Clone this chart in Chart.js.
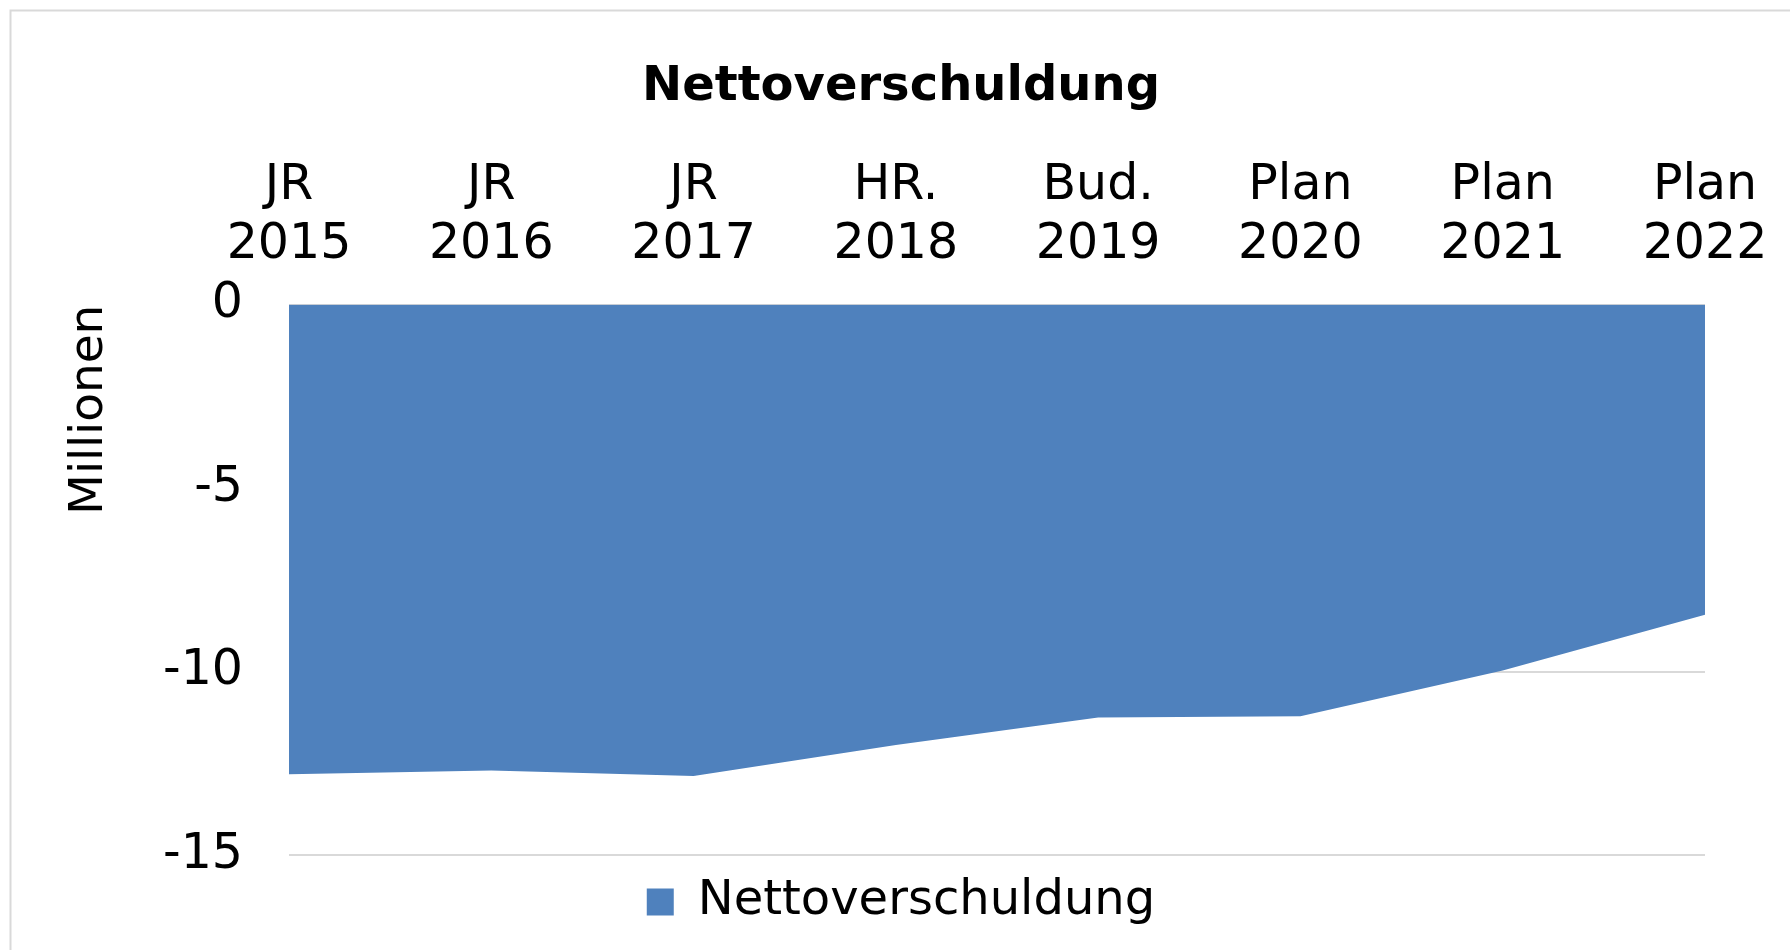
<!DOCTYPE html>
<html>
<head>
<meta charset="utf-8">
<script src="https://cdn.jsdelivr.net/npm/chart.js@4/dist/chart.umd.min.js"></script>
<style>
    html, body { margin: 0; padding: 0; background: #fff; }
    #wrap { width: 1790px; height: 950px; position: relative; }
</style>
</head>
<body>
<div id="wrap"><canvas id="chart"></canvas></div>
<script>
const categories = [['JR', '2015'], ['JR', '2016'], ['JR', '2017'], ['HR.', '2018'],
    ['Bud.', '2019'], ['Plan', '2020'], ['Plan', '2021'], ['Plan', '2022']];
const nettoverschuldung = [-12.8, -12.7, -12.85, -12.0, -11.25, -11.22, -9.97, -8.45];
const yTicks = [0, -5, -10, -15];

const font = 'DejaVu Sans, Verdana, sans-serif';

// light frame round the chart, like the office export
const framePlugin = {
    id: 'frame',
    beforeDraw(chart) {
        const ctx = chart.ctx;
        ctx.save();
        ctx.strokeStyle = '#d9d9d9';
        ctx.lineWidth = 2;
        ctx.strokeRect(10.5, 10.5, 1800, 960);
        ctx.restore();
    }
};

new Chart(document.getElementById('chart').getContext('2d'), {
    type: 'line',
    data: {
        labels: categories,
        datasets: [{
            label: 'Nettoverschuldung',
            data: nettoverschuldung,
            fill: 'origin',
            backgroundColor: '#4f81bd',
            borderColor: '#4f81bd',
            borderWidth: 0,
            pointRadius: 0,
            tension: 0
        }]
    },
    options: {
        responsive: true,
        maintainAspectRatio: false,
        animation: false,
        layout: { padding: { left: 12, right: 0, top: 0, bottom: 14 } },
        plugins: {
            title: {
                display: true,
                text: 'Nettoverschuldung',
                color: '#000',
                font: { family: font, size: 48, weight: 'bold', lineHeight: 1.2 },
                padding: { top: 59, bottom: 0 }
            },
            legend: {
                position: 'bottom',
                labels: {
                    color: '#000',
                    font: { family: font, size: 48 },
                    boxWidth: 27,
                    boxHeight: 27,
                    padding: 23
                }
            },
            tooltip: { enabled: false }
        },
        scales: {
            x: {
                position: 'top',
                offset: false,
                grid: { display: false, drawTicks: false, tickLength: 0 },
                border: { display: false },
                ticks: {
                    color: '#000',
                    font: { family: font, size: 49, lineHeight: 1.2 },
                    padding: 30,
                    maxRotation: 0,
                    autoSkip: false
                },
                afterFit(scale) {
                    scale.height = 188;
                    // labels may hang over the plot edges, the side axes leave room
                    scale.paddingLeft = 0;
                    scale.paddingRight = 0;
                }
            },
            y: {
                min: -15,
                max: 0,
                afterBuildTicks(scale) { scale.ticks = yTicks.map(v => ({ value: v })); },
                grid: { color: '#d9d9d9', lineWidth: 2, drawTicks: false, tickLength: 0 },
                border: { display: false },
                ticks: {
                    color: '#000',
                    font: { family: font, size: 49 },
                    padding: 46
                },
                title: {
                    display: true,
                    text: 'Millionen',
                    align: 'end',
                    color: '#000',
                    font: { family: font, size: 47, lineHeight: 1.2 },
                    padding: { top: 50, bottom: 0 }
                },
                afterFit(scale) { scale.width = 277; }
            },
            // empty right axis, only keeps the plot clear of the right edge
            y2: {
                position: 'right',
                grid: { display: false },
                border: { display: false },
                ticks: { display: false },
                afterFit(scale) { scale.width = 85; }
            }
        }
    },
    plugins: [framePlugin]
});
</script>
</body>
</html>
